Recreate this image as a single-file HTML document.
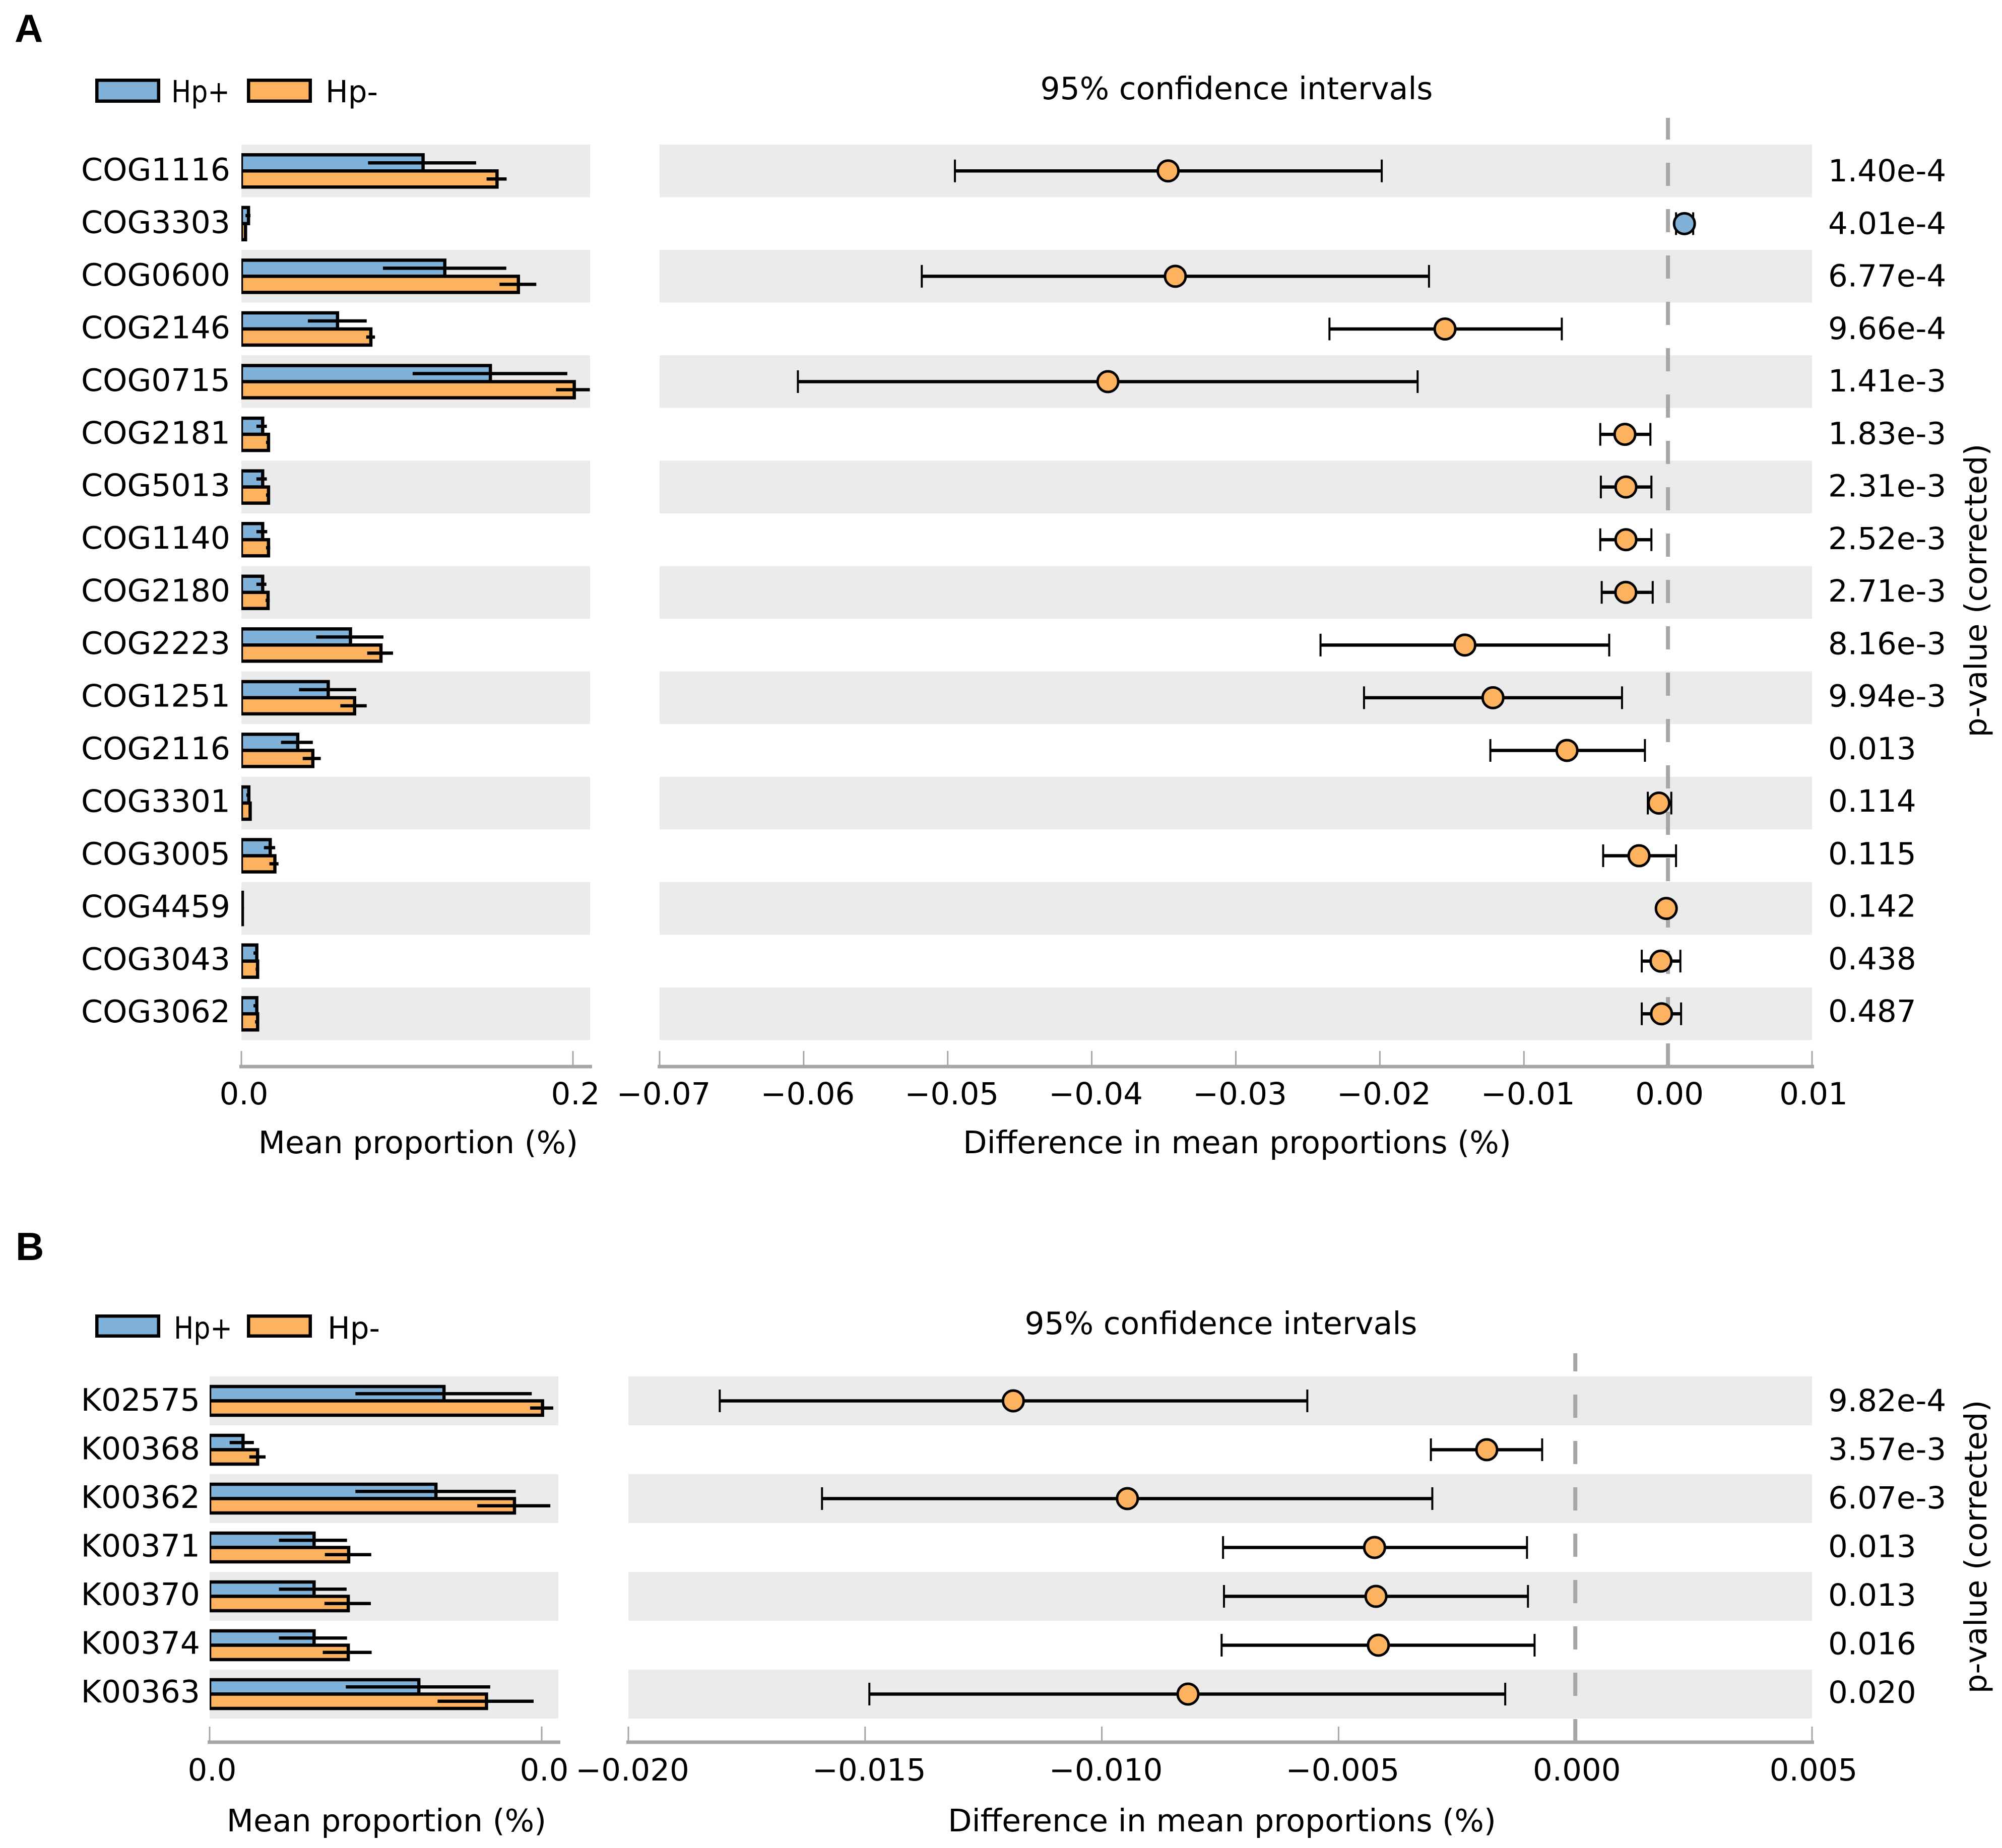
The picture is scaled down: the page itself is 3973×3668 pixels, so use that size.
<!DOCTYPE html>
<html lang="en">
<head>
<meta charset="utf-8">
<title>Extended error bar plots of COG and KO differences</title>
<style>
  html, body { margin: 0; padding: 0; background: #fff; }
  svg { display: block; }
  text { font-family: "DejaVu Sans", "Liberation Sans", sans-serif; font-size: 61px; fill: #000; }
  .panel-letter { font-family: "Liberation Sans", sans-serif; font-weight: bold; font-size: 78px; }
</style>
</head>
<body>
<svg id="chart" xmlns="http://www.w3.org/2000/svg" width="3973" height="3668" viewBox="0 0 3973 3668">
  <rect x="0" y="0" width="3973" height="3668" fill="#ffffff"/>
  <text class="panel-letter" x="29" y="83">A</text>
  <text class="panel-letter" x="31" y="2501">B</text>
  <g id="panel-a"></g>
  <g id="panel-b"></g>
</svg>
<script>
// ---------- Panel A data ----------
const cogCategories = ['COG1116','COG3303','COG0600','COG2146','COG0715','COG2181','COG5013','COG1140','COG2180','COG2223','COG1251','COG2116','COG3301','COG3005','COG4459','COG3043','COG3062'];
const cogHpPosMean = [0.1096,0.0043,0.1227,0.058,0.1502,0.01285,0.01285,0.01285,0.01285,0.0658,0.0524,0.034,0.0045,0.0174,0.0006,0.0093,0.0093];
const cogHpPosLow  = [0.0764,0.0025,0.0854,0.0401,0.1033,0.00907,0.00907,0.00907,0.00907,0.0451,0.0348,0.0239,0.003,0.0136,0.0004,0.0073,0.0073];
const cogHpPosHigh = [0.1416,0.0055,0.1598,0.0756,0.1966,0.01537,0.01537,0.0156,0.0151,0.0857,0.0693,0.0431,0.005,0.0204,0.0008,0.0098,0.0101];
const cogHpNegMean = [0.1542,0.0025,0.1671,0.0781,0.2008,0.01638,0.01638,0.01638,0.0161,0.0842,0.0683,0.0431,0.0053,0.0202,0.0006,0.0098,0.0098];
const cogHpNegLow  = [0.1479,0.002,0.1557,0.0753,0.1898,0.01487,0.01487,0.01487,0.0146,0.0759,0.0597,0.037,0.0043,0.0169,0.0004,0.0086,0.0083];
const cogHpNegHigh = [0.16,0.003,0.1779,0.0806,0.2102,0.01714,0.01714,0.0174,0.0171,0.0915,0.0756,0.0479,0.0058,0.0224,0.0008,0.0108,0.0108];
const cogDiffMean = [-0.03470,0.00114,-0.03420,-0.01548,-0.03888,-0.00299,-0.00292,-0.00292,-0.00293,-0.0141,-0.01215,-0.00701,-0.00063,-0.00201,-0.00012,-0.00049,-0.00045];
const cogDiffLow  = [-0.0495,0.00056,-0.0518,-0.0235,-0.0604,-0.0047,-0.00466,-0.0047,-0.0046,-0.02412,-0.0211,-0.01233,-0.0014,-0.0045,-0.00015,-0.00182,-0.00182];
const cogDiffHigh = [-0.01987,0.00175,-0.01659,-0.00737,-0.01738,-0.00122,-0.00115,-0.00115,-0.00106,-0.00408,-0.00319,-0.0016,0.00023,0.00056,-0.00009,0.00086,0.00091];
const cogPValues = ['1.40e-4','4.01e-4','6.77e-4','9.66e-4','1.41e-3','1.83e-3','2.31e-3','2.52e-3','2.71e-3','8.16e-3','9.94e-3','0.013','0.114','0.115','0.142','0.438','0.487'];
const cogMeanTickValues = [0, 0.2];
const cogMeanTickLabels = ['0.0', '0.2'];
const cogDiffTickValues = [-0.07,-0.06,-0.05,-0.04,-0.03,-0.02,-0.01,0,0.01];
const cogDiffTickLabels = ['\u22120.07','\u22120.06','\u22120.05','\u22120.04','\u22120.03','\u22120.02','\u22120.01','0.00','0.01'];

// ---------- Panel B data ----------
const koCategories = ['K02575','K00368','K00362','K00371','K00370','K00374','K00363'];
const koHpPosMean = [0.02823,0.00402,0.02726,0.01258,0.01258,0.01258,0.0252];
const koHpPosLow  = [0.01756,0.00241,0.01756,0.00835,0.00835,0.00835,0.0164];
const koHpPosHigh = [0.0388,0.00533,0.03687,0.01655,0.0165,0.01655,0.0338];
const koHpNegMean = [0.0401,0.00578,0.03672,0.01675,0.0167,0.0167,0.03335];
const koHpNegLow  = [0.0386,0.00478,0.03224,0.01388,0.01383,0.01363,0.02746];
const koHpNegHigh = [0.0414,0.00674,0.04104,0.01947,0.01942,0.01952,0.03903];
const koDiffMean = [-0.01187,-0.00187,-0.00946,-0.00424,-0.00421,-0.00416,-0.00818];
const koDiffLow  = [-0.01807,-0.00305,-0.01591,-0.00744,-0.00742,-0.00747,-0.01491];
const koDiffHigh = [-0.00566,-0.0007,-0.00302,-0.00102,-0.001,-0.00086,-0.00148];
const koPValues = ['9.82e-4','3.57e-3','6.07e-3','0.013','0.013','0.016','0.020'];
const koMeanTickValues = [0, 0.04];
const koMeanTickLabels = ['0.0', '0.0'];
const koDiffTickValues = [-0.02,-0.015,-0.01,-0.005,0,0.005];
const koDiffTickLabels = ['\u22120.020','\u22120.015','\u22120.010','\u22120.005','0.000','0.005'];

const legendLabels = ['Hp+', 'Hp-'];
const legendLabelWidths = [116, 104];
const BLUE = '#80b1d8';
const ORANGE = '#fdb25f';
const GREY = '#a6a6a6';
const BAND = '#ebebeb';
const NS = 'http://www.w3.org/2000/svg';

function mk(tag, attrs, parent) {
  const el = document.createElementNS(NS, tag);
  for (const k in attrs) el.setAttribute(k, attrs[k]);
  parent.appendChild(el);
  return el;
}
function txt(attrs, parent, content) {
  const el = mk('text', attrs, parent);
  el.textContent = content;
  return el;
}
function linear(d0, d1, r0, r1) {
  return function (v) { return r0 + (v - d0) * (r1 - r0) / (d1 - d0); };
}

function drawPanel(p, root) {
  const n = p.categories.length;
  const xMean = linear(p.meanTickValues[0], p.meanTickValues[1], p.meanTick0, p.meanTick1);
  const xDiff = linear(p.diffTickValues[0], p.diffTickValues[p.diffTickValues.length - 1], p.diffLeft, p.diffRight);
  const rowCenter = function (i) { return p.bandTop + (i + 0.5) * p.pitch; };

  // shaded row bands
  for (let i = 0; i < n; i += 2) {
    const y = p.bandTop + i * p.pitch;
    const a = mk('rect', {x: p.meanTick0, y: y, width: p.meanRight - p.meanTick0, height: p.pitch, fill: BAND}, root);
    
    
    const b = mk('rect', {x: p.diffLeft, y: y, width: p.diffRight - p.diffLeft, height: p.pitch, fill: BAND}, root);
    
    
  }

  // clip for the bars (left half of outline is clipped by the axes edge)
  const defs = mk('defs', {}, root);
  const clip = mk('clipPath', {id: p.id + '-clip'}, defs);
  mk('rect', {x: p.meanTick0, y: p.bandTop, width: p.meanRight - p.meanTick0, height: p.pitch * n}, clip);
  const barsGroup = mk('g', {'clip-path': 'url(#' + p.id + '-clip)'}, root);
  
  

  for (let i = 0; i < n; i++) {
    const c = rowCenter(i);
    const pos = mk('rect', {x: xMean(0), y: c - p.barH, width: xMean(p.hpPosMean[i]) - xMean(0), height: p.barH, fill: BLUE, stroke: '#000', 'stroke-width': 6.5}, barsGroup);
    
    
    const neg = mk('rect', {x: xMean(0), y: c, width: xMean(p.hpNegMean[i]) - xMean(0), height: p.barH, fill: ORANGE, stroke: '#000', 'stroke-width': 6.5}, barsGroup);
    
    
    const ep = mk('line', {x1: xMean(p.hpPosLow[i]), x2: xMean(p.hpPosHigh[i]), y1: c - p.barH / 2, y2: c - p.barH / 2, stroke: '#000', 'stroke-width': 6.5}, barsGroup);
    
    
    const en = mk('line', {x1: xMean(p.hpNegLow[i]), x2: xMean(p.hpNegHigh[i]), y1: c + p.barH / 2, y2: c + p.barH / 2, stroke: '#000', 'stroke-width': 6.5}, barsGroup);
    
    

    const lab = txt({x: p.labelRight, y: p.labelY0 + i * p.labelPitch, 'text-anchor': 'end', style: 'font-size:61.6px'}, root, p.categories[i]);
    
    
  }

  // mean axis
  const meanAxis = mk('line', {x1: p.meanTick0 - 4, x2: p.meanRight + 4, y1: p.axisY, y2: p.axisY, stroke: GREY, 'stroke-width': 7}, root);
  
  
  p.meanTickValues.forEach(function (v, k) {
    const t = mk('line', {x1: xMean(v), x2: xMean(v), y1: p.axisY - 31, y2: p.axisY, stroke: GREY, 'stroke-width': 3}, root);
    
    
    const l = txt({x: xMean(v) + 5, y: p.tickBaseline, 'text-anchor': 'middle'}, root, p.meanTickLabels[k]);
    
    
  });
  const mt = txt({x: p.meanTitleX, y: p.axisTitleBaseline, 'text-anchor': 'middle', style: 'font-size:61.6px'}, root, 'Mean proportion (%)');
  
  

  // legend
  legendLabels.forEach(function (name, k) {
    const r = mk('rect', {x: p.legendSwatchX[k], y: p.legendTop, width: 122.5, height: p.legendH, fill: k === 0 ? BLUE : ORANGE, stroke: '#000', 'stroke-width': 6.5}, root);
    
    
    const t = txt({x: p.legendTextX[k], y: p.legendBaseline, textLength: legendLabelWidths[k], lengthAdjust: 'spacingAndGlyphs'}, root, name);
    
    
  });

  // difference axis
  const diffAxis = mk('line', {x1: p.diffLeft - 4, x2: p.diffRight + 4, y1: p.axisY, y2: p.axisY, stroke: GREY, 'stroke-width': 7}, root);
  
  
  p.diffTickValues.forEach(function (v, k) {
    const t = mk('line', {x1: xDiff(v), x2: xDiff(v), y1: p.axisY - 31, y2: p.axisY, stroke: GREY, 'stroke-width': 3}, root);
    
    
    const l = txt({x: xDiff(v) + (v < 0 ? 8 : 3), y: p.tickBaseline, 'text-anchor': 'middle'}, root, p.diffTickLabels[k]);
    
    
  });
  const dt = txt({x: p.diffTitleX, y: p.axisTitleBaseline, 'text-anchor': 'middle', style: 'font-size:61.7px'}, root, 'Difference in mean proportions (%)');
  
  
  const ci = txt({x: p.ciTitleX, y: p.ciTitleBaseline, 'text-anchor': 'middle', style: 'font-size:61.5px'}, root, '95% confidence intervals');
  
  

  // zero reference line (dashes start at the axis)
  const zero = mk('line', {x1: xDiff(0), x2: xDiff(0), y1: p.axisY, y2: p.zeroTop, stroke: GREY, 'stroke-width': 8, 'stroke-dasharray': '46 46'}, root);
  
  

  // confidence intervals and markers
  for (let i = 0; i < n; i++) {
    const c = rowCenter(i);
    const g = mk('g', {}, root);
    
    
    const e = mk('line', {x1: xDiff(p.diffLow[i]), x2: xDiff(p.diffHigh[i]), y1: c, y2: c, stroke: '#000', 'stroke-width': 6.5}, g);
    
    
    const c1 = mk('line', {x1: xDiff(p.diffLow[i]), x2: xDiff(p.diffLow[i]), y1: c - 22.5, y2: c + 22.5, stroke: '#000', 'stroke-width': 4}, g);
    
    
    const c2 = mk('line', {x1: xDiff(p.diffHigh[i]), x2: xDiff(p.diffHigh[i]), y1: c - 22.5, y2: c + 22.5, stroke: '#000', 'stroke-width': 4}, g);
    
    
    const m = mk('circle', {cx: xDiff(p.diffMean[i]), cy: c, r: 20.5, fill: p.diffMean[i] > 0 ? BLUE : ORANGE, stroke: '#000', 'stroke-width': 5}, g);
    
    

    const pv = txt({x: p.pValueX, y: p.pValueY0 + i * p.pValuePitch}, root, p.pValues[i]);
    
    
  }

  const py = txt({x: 0, y: 0, 'text-anchor': 'middle', transform: 'translate(3942 ' + p.pTitleY + ') rotate(-90)'}, root, 'p-value (corrected)');
  
  
}

drawPanel({
  id: 'a',
  categories: cogCategories,
  hpPosMean: cogHpPosMean, hpPosLow: cogHpPosLow, hpPosHigh: cogHpPosHigh,
  hpNegMean: cogHpNegMean, hpNegLow: cogHpNegLow, hpNegHigh: cogHpNegHigh,
  diffMean: cogDiffMean, diffLow: cogDiffLow, diffHigh: cogDiffHigh,
  pValues: cogPValues,
  meanTickValues: cogMeanTickValues, meanTickLabels: cogMeanTickLabels,
  diffTickValues: cogDiffTickValues, diffTickLabels: cogDiffTickLabels,
  bandTop: 287, pitch: 104.56, barH: 32,
  meanTick0: 479, meanTick1: 1137, meanRight: 1171,
  diffLeft: 1309, diffRight: 3596,
  axisY: 2117, zeroTop: 234,
  labelRight: 457, labelY0: 358, labelPitch: 104.45,
  pValueX: 3628, pValueY0: 360, pValuePitch: 104.25,
  tickBaseline: 2192, axisTitleBaseline: 2289,
  meanTitleX: 830, diffTitleX: 2455,
  ciTitleX: 2454, ciTitleBaseline: 197,
  legendSwatchX: [192.25, 493.25], legendTextX: [340, 646], legendTop: 159.25, legendH: 41.5, legendBaseline: 203,
  pTitleY: 1172
}, document.getElementById('panel-a'));

drawPanel({
  id: 'b',
  categories: koCategories,
  hpPosMean: koHpPosMean, hpPosLow: koHpPosLow, hpPosHigh: koHpPosHigh,
  hpNegMean: koHpNegMean, hpNegLow: koHpNegLow, hpNegHigh: koHpNegHigh,
  diffMean: koDiffMean, diffLow: koDiffLow, diffHigh: koDiffHigh,
  pValues: koPValues,
  meanTickValues: koMeanTickValues, meanTickLabels: koMeanTickLabels,
  diffTickValues: koDiffTickValues, diffTickLabels: koDiffTickLabels,
  bandTop: 2732, pitch: 97, barH: 28.5,
  meanTick0: 416, meanTick1: 1075, meanRight: 1108,
  diffLeft: 1247, diffRight: 3596,
  axisY: 3458, zeroTop: 2686,
  labelRight: 397, labelY0: 2800, labelPitch: 96.5,
  pValueX: 3628, pValueY0: 2801, pValuePitch: 96.5,
  tickBaseline: 3534, axisTitleBaseline: 3635,
  meanTitleX: 767, diffTitleX: 2425,
  ciTitleX: 2423, ciTitleBaseline: 2648,
  legendSwatchX: [192.25, 493.25], legendTextX: [345, 650], legendTop: 2612.25, legendH: 39.5, legendBaseline: 2657,
  pTitleY: 3070
}, document.getElementById('panel-b'));
</script>
</body>
</html>
